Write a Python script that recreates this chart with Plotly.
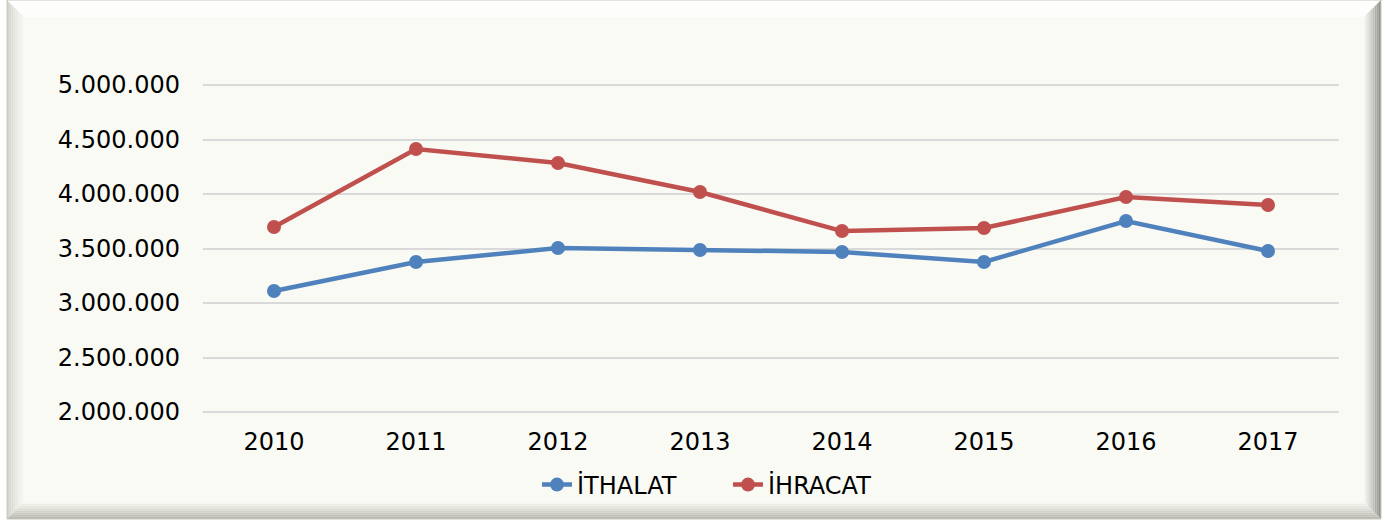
import plotly.graph_objects as go

years = ["2010", "2011", "2012", "2013", "2014", "2015", "2016", "2017"]
ithalat = [3110000, 3376000, 3505000, 3486000, 3468000, 3376000, 3752000, 3477000]
ihracat = [3697000, 4413000, 4284000, 4018000, 3660000, 3688000, 3972000, 3899000]
series_names = ["İTHALAT", "İHRACAT"]
series_colors = ["#4F81BD", "#C0504D"]
y_min, y_max, y_step = 2000000, 5000000, 500000

W, H = 1385, 524
# plot area extended by 3 px each side so the edge gridlines are drawn
EXT = 3
L, R, T, B = 203, 1339, 85 - EXT, 412 + EXT
pad = EXT * (y_max - y_min) / 327.0

def px(x):
    return (x - L) / (R - L)

def py(y):
    return (B - y) / (B - T)

def mix(c1, c2, t):
    a = [int(c1[i:i+2], 16) for i in (1, 3, 5)]
    b = [int(c2[i:i+2], 16) for i in (1, 3, 5)]
    return "#%02x%02x%02x" % tuple(round(a[k] + (b[k] - a[k]) * t) for k in range(3))

fig = go.Figure()
for name, vals, col in zip(series_names, [ithalat, ihracat], series_colors):
    fig.add_trace(go.Scatter(
        x=years, y=vals, name=name, mode="lines+markers",
        line=dict(color=col, width=4.5),
        marker=dict(color=col, size=14),
    ))

shapes = []
inner = "#fafaf5"
ox0, oy0, ox1, oy1 = 7, 0, 1381, 519
bev = 17
shapes.append(dict(type="rect", xref="paper", yref="paper",
                   x0=px(ox0), x1=px(ox1), y0=py(oy1), y1=py(oy0),
                   fillcolor=inner, line=dict(width=0), layer="below"))
sides = {
    "left": ("#d2d2cb", inner),
    "top": ("#ffffff", "#fdfdfb"),
    "right": ("#8e8e8a", inner),
    "bottom": ("#b4b4ac", inner),
}
N = 8
for side, (c_out, c_in) in sides.items():
    for i in range(N):
        d0 = bev * i / N
        d1 = bev * (i + 1) / N
        col = mix(c_out, c_in, (i + 0.5) / N)
        if side == "left":
            pts = [(ox0 + d0, oy0 + d0), (ox0 + d1, oy0 + d1), (ox0 + d1, oy1 - d1), (ox0 + d0, oy1 - d0)]
        elif side == "right":
            pts = [(ox1 - d0, oy0 + d0), (ox1 - d1, oy0 + d1), (ox1 - d1, oy1 - d1), (ox1 - d0, oy1 - d0)]
        elif side == "top":
            pts = [(ox0 + d0, oy0 + d0), (ox1 - d0, oy0 + d0), (ox1 - d1, oy0 + d1), (ox0 + d1, oy0 + d1)]
        else:
            pts = [(ox0 + d0, oy1 - d0), (ox1 - d0, oy1 - d0), (ox1 - d1, oy1 - d1), (ox0 + d1, oy1 - d1)]
        path = "M " + " L ".join("%.5f,%.5f" % (px(a), py(b)) for a, b in pts) + " Z"
        shapes.append(dict(type="path", xref="paper", yref="paper", path=path,
                           fillcolor=col, line=dict(width=0), layer="below"))
shapes.append(dict(type="rect", xref="paper", yref="paper",
                   x0=px(ox0), x1=px(ox1), y0=py(oy1), y1=py(oy0),
                   fillcolor="rgba(0,0,0,0)", line=dict(width=1, color="#c8c8c0"), layer="below"))

fig.update_layout(
    width=W, height=H,
    margin=dict(l=L, r=W - R, t=T, b=H - B, autoexpand=False),
    paper_bgcolor="white",
    plot_bgcolor="rgba(0,0,0,0)",
    separators=",.",
    font=dict(family="DejaVu Sans, Verdana, sans-serif", size=24, color="#000000"),
    shapes=shapes,
    showlegend=True,
    legend=dict(orientation="h", xref="paper", yref="paper",
                x=px(728), xanchor="center", y=py(485), yanchor="middle",
                font=dict(size=24), bgcolor="rgba(0,0,0,0)",
                entrywidth=146, entrywidthmode="pixels"),
    xaxis=dict(type="category", range=[-0.5, 7.5], showgrid=False, zeroline=False,
               showline=False, ticks="", ticklabelstandoff=13 - EXT, automargin=False,
               tickfont=dict(size=24)),
    yaxis=dict(range=[y_min - pad, y_max + pad], tickmode="linear", dtick=y_step, tick0=y_min,
               tickformat=",d", showgrid=True, gridcolor="#d9d9d9",
               gridwidth=2, zeroline=False, showline=False, ticks="", automargin=False,
               ticklabelstandoff=22, tickfont=dict(size=24)),
)

fig.write_html("out.html", config={"displayModeBar": False},
               post_script="document.body.style.margin='0';document.body.style.overflow='hidden';")
